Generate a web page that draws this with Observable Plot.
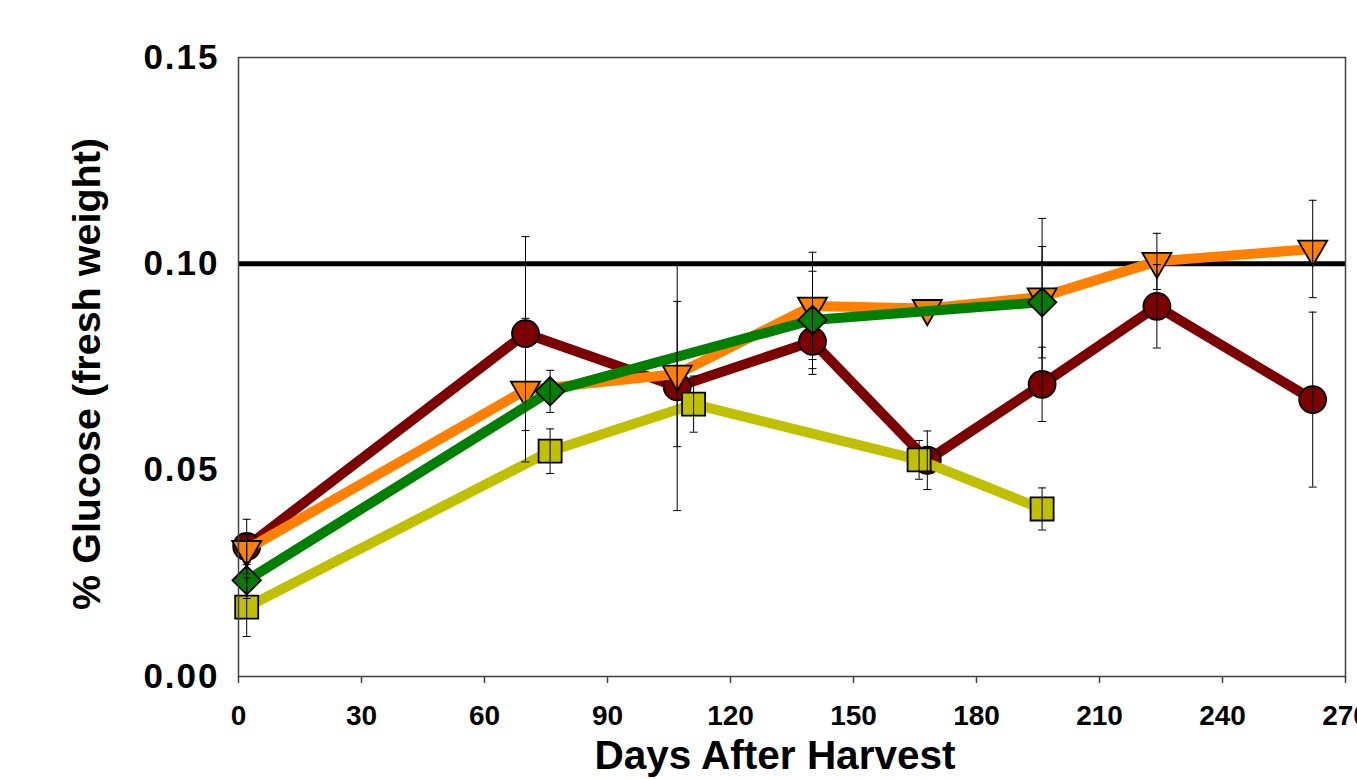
<!DOCTYPE html>
<html>
<head>
<meta charset="utf-8">
<script src="https://cdn.jsdelivr.net/npm/d3@7"></script>
<script src="https://cdn.jsdelivr.net/npm/@observablehq/plot@0.6"></script>
<style>
  html, body { margin: 0; padding: 0; background: white; }
  #chart svg g[aria-label="y-axis tick label"] text { letter-spacing: 2px; }
</style>
</head>
<body>
<div id="chart"></div>
<script>
// ---- Data ----
const xTicks = [0, 30, 60, 90, 120, 150, 180, 210, 240, 270];
const yTicks = [0.00, 0.05, 0.10, 0.15];
const refLine = [0.10];

const redDays   = [2, 70, 107, 140, 168, 196, 224, 262];
const redValues = [0.0315, 0.0831, 0.0702, 0.0812, 0.0524, 0.0708, 0.0897, 0.0671];
const redErrors = [0.0066, 0.0235, 0.0300, 0.0080, 0.0071, 0.0090, 0.0101, 0.0212];

const orangeDays   = [2, 70, 107, 140, 168, 196, 224, 262];
const orangeValues = [0.0308, 0.0694, 0.0733, 0.0898, 0.0892, 0.0920, 0.1006, 0.1036];
const orangeErrors = [0.0037, 0.0174, 0.0176, 0.0130, 0, 0.0190, 0.0068, 0.0118];

const greenDays   = [2, 76, 140, 196];
const greenValues = [0.0233, 0.0691, 0.0864, 0.0907];
const greenErrors = [0.0044, 0.0051, 0.0118, 0.0135];

const yellowDays   = [2, 76, 111, 166, 196];
const yellowValues = [0.0168, 0.0546, 0.0660, 0.0525, 0.0406];
const yellowErrors = [0.0071, 0.0054, 0.0068, 0.0047, 0.0051];

// ---- Build tables ----
function rows(days, values, errors) {
  return days.map((d, i) => ({day: d, value: values[i], err: errors[i]}));
}
const series = [
  {rows: rows(redDays, redValues, redErrors), color: "#7d0000", symbol: "circle", r: 13.5, rotate: 0},
  {rows: rows(orangeDays, orangeValues, orangeErrors), color: "#ff8000", symbol: "triangle", r: 10.8, rotate: 180},
  {rows: rows(greenDays, greenValues, greenErrors), color: "#008000", symbol: "diamond2", r: 12.8, rotate: 0},
  {rows: rows(yellowDays, yellowValues, yellowErrors), color: "#c0c000", symbol: "square", r: 13, rotate: 0}
];
const allRows = series.flatMap(s => s.rows).filter(d => d.err > 0);

const capSymbol = {
  draw(context, size) {
    const w = Math.sqrt(size / Math.PI);
    context.moveTo(-w, 0);
    context.lineTo(w, 0);
  }
};

const font = "'Liberation Sans', Arial, Helvetica, sans-serif";

const marks = [
  Plot.ruleY(refLine, {stroke: "black", strokeWidth: 5}),
];
for (const s of series) {
  marks.push(Plot.line(s.rows, {x: "day", y: "value", stroke: s.color, strokeWidth: 10, strokeLinejoin: "miter", strokeLinecap: "butt"}));
  marks.push(Plot.dot(s.rows, {x: "day", y: "value", symbol: s.symbol, r: s.r, rotate: s.rotate, fill: s.color, stroke: "black", strokeWidth: 1.8}));
}
marks.push(
  Plot.ruleX(allRows, {x: "day", y1: d => d.value - d.err, y2: d => d.value + d.err, stroke: "black", strokeWidth: 1}),
  Plot.dot(allRows, {x: "day", y: d => d.value + d.err, symbol: capSymbol, r: 4, stroke: "black", strokeWidth: 1, fill: "none"}),
  Plot.dot(allRows, {x: "day", y: d => d.value - d.err, symbol: capSymbol, r: 4, stroke: "black", strokeWidth: 1, fill: "none"}),
  Plot.frame({stroke: "#404040", strokeWidth: 1.5}),
  Plot.axisX({ticks: xTicks, tickSize: 7, tickPadding: 22, fontSize: 28, fontWeight: "bold", label: null, stroke: "#404040", strokeWidth: 1.5, fill: "black"}),
  Plot.axisY({ticks: yTicks, tickSize: 0, tickPadding: 19, tickFormat: d => d.toFixed(2), fontSize: 35, fontWeight: "bold", label: null, fill: "black"}),
  Plot.text(["Days After Harvest"], {frameAnchor: "bottom", textAnchor: "middle", lineAnchor: "middle", dx: -17, dy: 80, fontSize: 40.5, fontWeight: "bold", fill: "black"}),
  Plot.text(["% Glucose (fresh weight)"], {frameAnchor: "left", textAnchor: "middle", lineAnchor: "middle", rotate: -90, dx: -151, dy: 7, fontSize: 39.5, fontWeight: "bold", fill: "black"})
);

const chart = Plot.plot({
  width: 1357,
  height: 779,
  marginLeft: 238,
  marginRight: 12,
  marginTop: 57,
  marginBottom: 103,
  style: {fontFamily: font, background: "white", overflow: "visible"},
  x: {domain: [0, 270]},
  y: {domain: [0, 0.15]},
  marks
});
document.getElementById("chart").appendChild(chart);
</script>
</body>
</html>
